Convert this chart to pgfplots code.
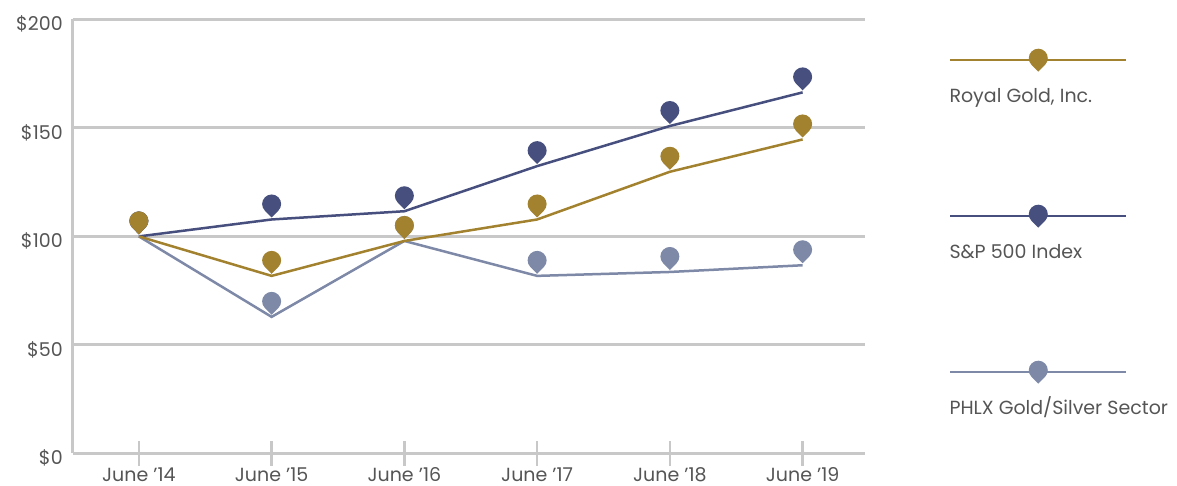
\documentclass[border=0pt]{standalone}
\usepackage{fontspec}
\setmainfont{Poppins}
\usepackage{pgfplots}
\pgfplotsset{compat=1.18}
\definecolor{rgold}{RGB}{163,130,47}
\definecolor{spnavy}{RGB}{70,79,125}
\definecolor{phlx}{RGB}{126,137,168}
\definecolor{gridgray}{RGB}{200,200,200}
\definecolor{textgray}{RGB}{85,85,85}
\pgfdeclareplotmark{pin}{%
  \pgfpathmoveto{\pgfpoint{0pt}{2pt}}%
  \pgfpathlineto{\pgfpoint{-6.75pt}{8.82pt}}%
  \pgfpatharc{224.7}{-44.7}{9.5pt}%
  \pgfpathclose
  \pgfusepathqfill}
\pgfplotstableread{
x rg sp ph
0 100   100   100
1 81.8  107.8 62.9
2 97.9  111.6 97.9
3 107.8 132.4 81.8
4 129.8 150.9 83.6
5 144.7 166.4 86.7
}\datatable
\begin{document}
\begin{tikzpicture}
\begin{axis}[
  at={(72.5pt,-453.3pt)}, anchor=south west,
  width=792.5pt, height=433.8pt, scale only axis,
  xmin=-0.5, xmax=5.47, ymin=0, ymax=200,
  axis lines=left,
  axis line style={-, draw=gridgray, line width=3pt},
  xtick={0,1,2,3,4,5},
  xticklabels={June ’14,June ’15,June ’16,June ’17,June ’18,June ’19},
  ytick={0,50,100,150,200},
  yticklabels={\$0,\$50,\$100,\$150,\$200},
  ymajorgrids,
  grid style={draw=gridgray, line width=3pt},
  major tick length=24.5pt, tick align=center,
  xtick style={draw=gridgray, line width=2.5pt},
  ytick style={draw=none},
  tick label style={font=\fontsize{19}{22}\selectfont, text=textgray},
  xticklabel style={inner sep=0.5pt, yshift=-1.5pt},
  yticklabel style={xshift=6pt, yshift=-4.5pt},
  clip=false,
  reverse legend,
  legend cell align=left,
  legend style={at={(1.1035,0.8375)}, anchor=north west, draw=none, fill=none,
    inner sep=0pt, outer sep=0pt, row sep=139pt,
    nodes={inner sep=0pt, text height=13pt, text depth=4pt,
      font=\fontsize{19}{22}\selectfont, text=textgray},
    /tikz/every even column/.append style={column sep=0pt}},
  legend image code/.code={%
    \draw[overlay, mark=none] (2pt,38.5pt) -- (178pt,38.5pt);
    \draw[overlay, only marks] plot coordinates {(90pt,24.8pt)};
    \path (0pt,0pt);},
]
\addplot[color=phlx, line width=2.5pt, mark=pin] table[x=x, y=ph] {\datatable};
\addlegendentry{PHLX Gold/Silver Sector}
\addplot[color=spnavy, line width=2.5pt, mark=pin] table[x=x, y=sp] {\datatable};
\addlegendentry{S\&P 500 Index}
\addplot[color=rgold, line width=2.5pt, mark=pin] table[x=x, y=rg] {\datatable};
\addlegendentry{Royal Gold, Inc.}
\end{axis}
\pgfresetboundingbox
\path[use as bounding box] (0pt,0pt) rectangle (1177pt,-486pt);
\end{tikzpicture}
\end{document}
